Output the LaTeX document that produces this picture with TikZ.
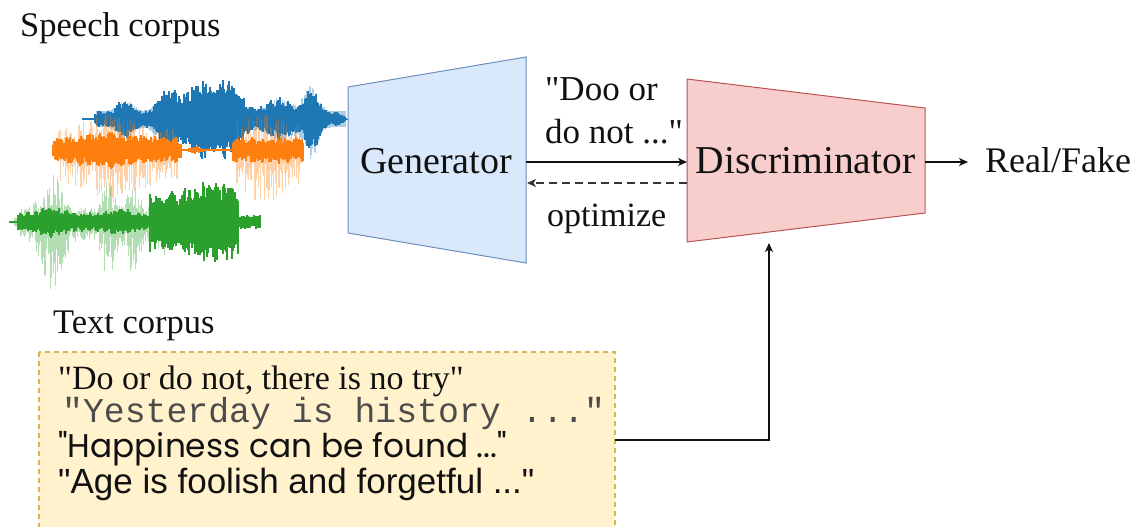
\documentclass[tikz,border=0pt]{standalone}
\usepackage{fontspec}
\setmainfont{Liberation Serif}
\newfontfamily\timesfont{Liberation Serif}
\newfontfamily\monofont{Liberation Mono}
\newfontfamily\comicfont{Poppins}
\newfontfamily\arialfont{Liberation Sans}
\usetikzlibrary{arrows.meta}
\definecolor{genfill}{HTML}{DAE8FC}
\definecolor{genline}{HTML}{6C8EBF}
\definecolor{disfill}{HTML}{F8CECC}
\definecolor{disline}{HTML}{B85450}
\definecolor{boxfill}{HTML}{FFF2CC}
\definecolor{boxline}{HTML}{D6B656}
\definecolor{wblue}{HTML}{1F77B4}
\definecolor{worange}{HTML}{FF7F0E}
\definecolor{wgreen}{HTML}{2CA02C}
\definecolor{ink}{HTML}{111111}
\pgfmathdeclarefunction{gs}{3}{\pgfmathparse{exp(0-(min(3,abs((#1-#2)/#3)))^2)}}
\pgfmathdeclarefunction{bx}{3}{\pgfmathparse{(#1>=#2)*(#1<=#3)}}
\tikzset{
  lbl/.style={inner sep=0pt, text=ink},
  arr/.style={draw=ink, line width=1.3pt, -{Stealth[length=9pt,width=8pt,inset=2.5pt]}},
  darr/.style={arr, draw=ink!85, dash pattern=on 8pt off 5pt},
  core/.style={line width=1.3pt},
  light/.style={line width=1pt, opacity=0.36},
}
\begin{document}
\begin{tikzpicture}[x=1pt,y=-1pt]
\useasboundingbox (0,0) rectangle (1137,527);
\clip (0,0) rectangle (1137,527);
\pgfmathsetseed{4242}

% ---------- text corpus box ----------
\draw[boxline, fill=boxfill, line width=1.2pt, dash pattern=on 5pt off 4pt] (39,352) rectangle (615,560);
\coordinate (tboxR) at (615,440);

% ---------- waveforms ----------
% blue
\foreach \x in {96,...,345}{
  \pgfmathsetmacro\l{10*gs(\x,125,10)+12*gs(\x,165,12)+14*gs(\x,215,28)+12*gs(\x,280,14)+22*gs(\x,310,10)}
  \pgfmathsetmacro\ya{119-\l*(0.4+0.8*rnd)-8}
  \pgfmathsetmacro\yb{119+\l*(0.6+1.0*rnd)+8}
  \draw[wblue, light] (\x,\ya) -- (\x,\yb);
}
\foreach \x in {83,...,348}{
  \pgfmathsetmacro\e{(1.5+6*bx(\x,95,345)+12*gs(\x,125,10)+24*gs(\x,168,12)+32*gs(\x,200,18)+32*gs(\x,230,15)+14*gs(\x,280,18)+24*gs(\x,312,9))*(1-0.8*gs(\x,350,8))*(0.8+0.25*abs(sin(\x*19)))}
  \pgfmathsetmacro\ya{119-\e*(0.6+0.4*rnd)}
  \pgfmathsetmacro\yb{119+\e*(0.6+0.4*rnd)}
  \draw[wblue, core] (\x,\ya) -- (\x,\yb);
}
% orange
\foreach \x in {54,...,302}{
  \pgfmathsetmacro\l{bx(\x,58,178)*(30+22*gs(\x,110,35))+bx(\x,236,300)*(38+16*gs(\x,262,20))}
  \pgfmathsetmacro\ya{150-\l*0.7*(0.15+0.85*rnd)}
  \pgfmathsetmacro\yb{150+\l*(0.15+0.85*rnd)}
  \draw[worange, light] (\x,\ya) -- (\x,\yb);
}
\foreach \x in {53,...,303}{
  \pgfmathsetmacro\e{1.5+bx(\x,53,181)*(10+6*gs(\x,110,40))*(0.7+0.4*abs(sin(\x*17)))+bx(\x,233,303)*11*(0.7+0.4*abs(sin(\x*21)))+3*gs(\x,195,4)}
  \pgfmathsetmacro\ya{150-\e*(0.5+0.5*rnd)}
  \pgfmathsetmacro\yb{150+\e*(0.5+0.5*rnd)}
  \draw[worange, core] (\x,\ya) -- (\x,\yb);
}
% green
\foreach \x in {14,...,258}{
  \pgfmathsetmacro\l{14*bx(\x,20,150)+50*gs(\x,52,14)+40*gs(\x,108,8)+36*gs(\x,133,8)+18*gs(\x,165,10)+12*bx(\x,150,236)}
  \pgfmathsetmacro\ya{222-\l*0.7*(0.2+0.8*rnd)-4}
  \pgfmathsetmacro\yb{222+\l*(0.2+0.8*rnd)+4}
  \draw[wgreen, light] (\x,\ya) -- (\x,\yb);
}
\foreach \x in {10,...,260}{
  \pgfmathsetmacro\e{1+bx(\x,18,150)*(8+6*gs(\x,50,15)+4*gs(\x,120,15))*(0.7+0.4*abs(sin(\x*23)))+bx(\x,150,238)*(26+14*gs(\x,215,35))*(0.85+0.2*abs(sin(\x*13)))+6*bx(\x,239,260)}
  \pgfmathsetmacro\ya{222-\e*(0.55+0.45*rnd)}
  \pgfmathsetmacro\yb{222+\e*(0.55+0.45*rnd)}
  \draw[wgreen, core] (\x,\ya) -- (\x,\yb);
}

% ---------- generator / discriminator ----------
\draw[genline, fill=genfill, line width=1pt] (348,87) -- (526,57) -- (526,263) -- (348,233) -- cycle;
\draw[disline, fill=disfill, line width=1pt] (687,79) -- (925,108) -- (925,213) -- (687,242) -- cycle;
\node[lbl, anchor=base, font=\fontsize{38pt}{44pt}\selectfont] (gen) at (436,173) {Generator};
\node[lbl, anchor=base, font=\fontsize{39.5pt}{46pt}\selectfont] (dis) at (805.5,173) {Discriminator};

\coordinate (genR) at (526,162);
\coordinate (disL) at (687,162);
\coordinate (disL2) at (687,183);
\coordinate (genR2) at (527,183);
\coordinate (disR) at (925,162);
\coordinate (rfIn) at (968,162);
\coordinate (disB) at (769,243);

% ---------- labels ----------
\node[lbl, anchor=base west, font=\fontsize{34.5pt}{40pt}\selectfont] (speech) at (20,37) {Speech corpus};
\node[lbl, anchor=base west, font=\fontsize{34.5pt}{40pt}\selectfont] (textc) at (53,333) {Text corpus};
\node[lbl, anchor=base west, font=\timesfont\fontsize{35pt}{40pt}\selectfont] (doo1) at (545,100) {"Doo or};
\node[lbl, anchor=base west, font=\timesfont\fontsize{35pt}{40pt}\selectfont] (doo2) at (545,143) {do not ..."};
\node[lbl, anchor=base west, font=\fontsize{34pt}{40pt}\selectfont] (opt) at (547,226) {optimize};
\node[lbl, anchor=base west, font=\fontsize{36pt}{42pt}\selectfont] (rf) at (985,172) {Real/Fake};

% ---------- text corpus lines ----------
\node[lbl, anchor=base west, font=\timesfont\fontsize{34pt}{40pt}\selectfont] (q1) at (58,389) {"Do or do not, there is no try"};
\node[lbl, anchor=base west, font=\monofont\fontsize{34.8pt}{40pt}\selectfont, text=ink!75] (q2) at (62,422) {"Yesterday is history ..."};
\node[lbl, anchor=base west, font=\comicfont\fontsize{30pt}{36pt}\selectfont] (q3) at (58,457) {\resizebox{449pt}{!}{"Happiness can be found ..."}};
\node[lbl, anchor=base west, font=\arialfont\fontsize{35pt}{40pt}\selectfont] (q4) at (58,493) {"Age is foolish and forgetful ..."};

% ---------- connectors ----------
\draw[arr] (genR) -- (disL);
\draw[darr] (disL2) -- (genR2);
\draw[arr] (disR) -- (rfIn);
\draw[arr] (tboxR) -| (disB);
\end{tikzpicture}
\end{document}
